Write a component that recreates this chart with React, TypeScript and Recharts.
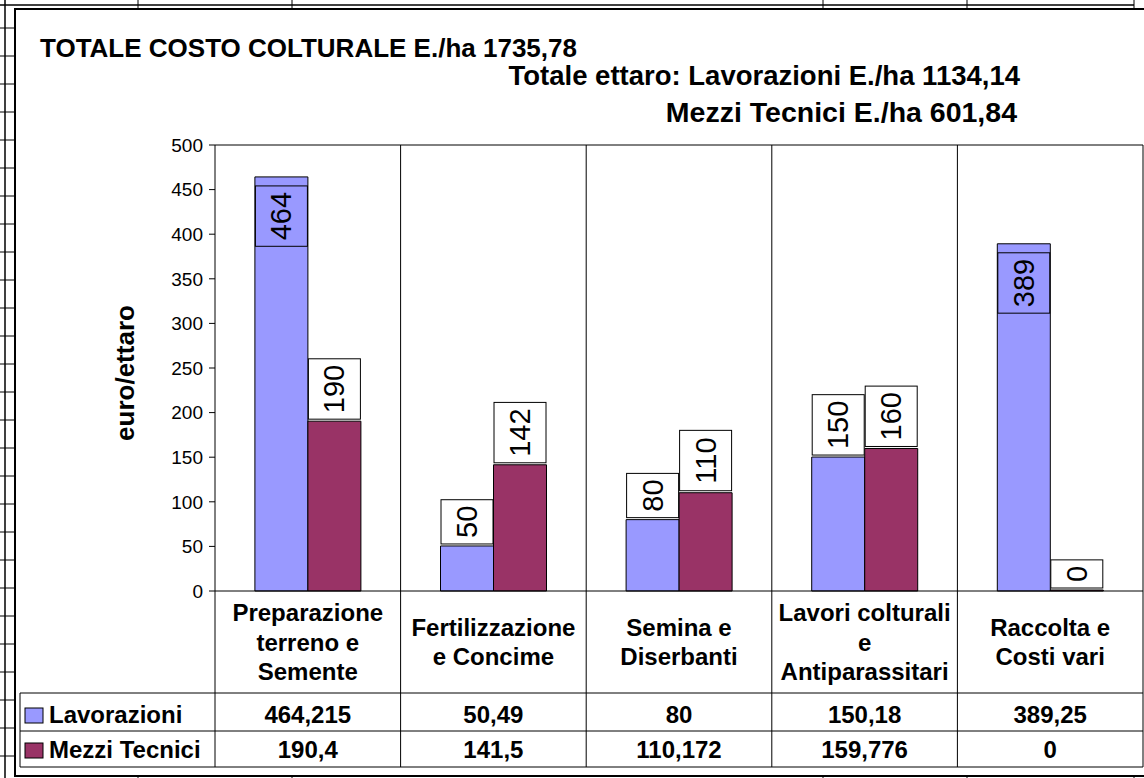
import React from 'react';
import { BarChart, Bar, XAxis, YAxis, LabelList, ReferenceLine } from 'recharts';

const FONT = '"Liberation Sans", Arial, Helvetica, sans-serif';

// ---------- data ----------
const categories = [
  'Preparazione\nterreno e\nSemente',
  'Fertilizzazione\ne Concime',
  'Semina e\nDiserbanti',
  'Lavori colturali\ne\nAntiparassitari',
  'Raccolta e\nCosti vari',
];
const lavorazioni = [464.215, 50.49, 80, 150.18, 389.25];
const mezziTecnici = [190.4, 141.5, 110.172, 159.776, 0];
const seriesNames = ['Lavorazioni', 'Mezzi Tecnici'];
const seriesColors = ['#9999FF', '#993366'];
const yTicks = [0, 50, 100, 150, 200, 250, 300, 350, 400, 450, 500];
const Y_MAX = 500;
const titleText = 'TOTALE COSTO COLTURALE E./ha 1735,78';
const subtitle1 = 'Totale ettaro: Lavorazioni E./ha 1134,14';
const subtitle2 = 'Mezzi Tecnici E./ha 601,84';
const yAxisTitle = 'euro/ettaro';

const data = categories.map((c, i) => ({ category: c, lav: lavorazioni[i], mezzi: mezziTecnici[i] }));
const seriesValues = [lavorazioni, mezziTecnici];

// ---------- layout ----------
const W = 1144;
const H = 778;
const MARGIN = { top: 145, right: 1, bottom: 11, left: 135 };
const YAXIS_W = 80;
const XAXIS_H = 176;
const PLOT_LEFT = MARGIN.left + YAXIS_W;
const PLOT_TOP = MARGIN.top;
const PLOT_RIGHT = W - MARGIN.right;
const PLOT_BOTTOM = H - MARGIN.bottom - XAXIS_H;
const TABLE_LEFT = 20;
const ROW1_TOP = 693;
const ROW2_TOP = 731;
const TABLE_BOTTOM = 767;
const ROW_BASELINES = [723, 758];
const LABEL_FS = 29;
const TABLE_FS = 24;

const fmt = (v: number) => String(v).replace('.', ',');

const CategoryTick = (props: any) => {
  const { x, payload } = props;
  const n = categories.length;
  const i = categories.indexOf(payload.value);
  const band = (PLOT_RIGHT - PLOT_LEFT) / n;
  const lines = String(payload.value).split('\n');
  const catCenter = (PLOT_BOTTOM + ROW1_TOP) / 2;
  const lh = 29.5;
  return (
    <g>
      <line x1={x - band / 2} x2={x - band / 2} y1={i === 0 ? PLOT_BOTTOM : PLOT_TOP} y2={TABLE_BOTTOM} stroke="#000" strokeWidth={1} />
      {i === n - 1 && (
        <line x1={x + band / 2} x2={x + band / 2} y1={PLOT_TOP} y2={TABLE_BOTTOM} stroke="#000" strokeWidth={1} />
      )}
      <text textAnchor="middle" fontWeight="bold" fontSize={24} fill="#000" fontFamily={FONT}>
        {lines.map((l, k) => (
          <tspan key={k} x={x} y={catCenter + 8.6 + (k - (lines.length - 1) / 2) * lh}>
            {l}
          </tspan>
        ))}
      </text>
      {seriesValues.map((arr, s) => (
        <text key={s} x={x} y={ROW_BASELINES[s]} textAnchor="middle" fontWeight="bold" fontSize={TABLE_FS} fill="#000" fontFamily={FONT}>
          {fmt(arr[i])}
        </text>
      ))}
      {i === 0 && (
        <g>
          {[ROW1_TOP, ROW2_TOP, TABLE_BOTTOM].map((yy) => (
            <line key={yy} x1={TABLE_LEFT} x2={PLOT_RIGHT} y1={yy} y2={yy} stroke="#000" strokeWidth={1} />
          ))}
          <line x1={TABLE_LEFT} x2={TABLE_LEFT} y1={ROW1_TOP} y2={TABLE_BOTTOM} stroke="#000" strokeWidth={1} />
          {seriesNames.map((name, s) => (
            <g key={name}>
              <rect x={25} y={ROW_BASELINES[s] - 15} width={18} height={15} fill={seriesColors[s]} stroke="#000" strokeWidth={1} />
              <text x={49} y={ROW_BASELINES[s]} fontWeight="bold" fontSize={TABLE_FS} fill="#000" fontFamily={FONT}>
                {name}
              </text>
            </g>
          ))}
        </g>
      )}
    </g>
  );
};

const renderBarLabel = (props: any) => {
  const vb = props.viewBox || {};
  const x = Number.isFinite(vb.x) ? vb.x : props.x;
  const y = Number.isFinite(vb.y) ? vb.y : props.y;
  const width = Number.isFinite(vb.width) ? vb.width : props.width;
  const height = Number.isFinite(vb.height) ? vb.height : props.height;
  const value = Number(props.value);
  const txt = String(Math.round(value));
  const boxH = txt.length * 0.556 * LABEL_FS + 12;
  const boxW = 52;
  const inside = value / Y_MAX > 0.7;
  const barTop = height < 0 ? y + height : y;
  const top = inside ? barTop + 9 : barTop - 2 - boxH;
  const cx = x + width / 2;
  const cy = top + boxH / 2;
  return (
    <g>
      <rect x={cx - boxW / 2} y={top} width={boxW} height={boxH} fill="#fff" fillOpacity={inside ? 0 : 1} stroke="#000" strokeWidth={1} />
      <text
        x={cx}
        y={cy}
        transform={`rotate(-90 ${cx} ${cy})`}
        textAnchor="middle"
        dominantBaseline="central"
        fontSize={LABEL_FS}
        fontFamily={FONT}
        fill="#000"
      >
        {txt}
      </text>
    </g>
  );
};

const renderYTitle = () => {
  const cx = PLOT_LEFT - 90;
  const cy = (PLOT_TOP + PLOT_BOTTOM) / 2 + 5;
  return (
    <text
      x={cx}
      y={cy}
      transform={`rotate(-90 ${cx} ${cy})`}
      textAnchor="middle"
      dominantBaseline="central"
      fontWeight="bold"
      fontSize={26}
      fontFamily={FONT}
      fill="#000"
    >
      {yAxisTitle}
    </text>
  );
};

const sheetRows = Array.from({ length: 27 }, (_, k) => 28 * (k + 1));
const sheetCols = [138, 292, 823, 967, 1134];

export default function App() {
  return (
    <div style={{ position: 'absolute', left: 0, top: 0, width: W, height: H, background: '#fff', fontFamily: FONT, overflow: 'hidden' }}>
      <svg width={W} height={H} style={{ position: 'absolute', left: 0, top: 0 }}>
        <line x1={0} y1={5} x2={1134} y2={5} stroke="#000" strokeWidth={1.5} />
        <line x1={5} y1={0} x2={5} y2={H} stroke="#000" strokeWidth={1.5} />
        {sheetRows.map((yy) => (
          <line key={yy} x1={0} x2={14} y1={yy} y2={yy} stroke="#000" strokeWidth={1} />
        ))}
        {sheetCols.map((xx) => (
          <g key={xx}>
            <line x1={xx} x2={xx} y1={0} y2={9} stroke="#000" strokeWidth={1} />
            <line x1={xx} x2={xx} y1={776} y2={H} stroke="#000" strokeWidth={1} />
          </g>
        ))}
        <rect x={15} y={9} width={1145} height={767} fill="#fff" stroke="#000" strokeWidth={2} />
      </svg>
      <div style={{ position: 'absolute', left: 0, top: 0 }}>
        <BarChart width={W} height={H} data={data} margin={MARGIN} barCategoryGap="21.5%" barGap={0}>
          <XAxis
            dataKey="category"
            interval={0}
            tickLine={false}
            axisLine={{ stroke: '#000' }}
            height={XAXIS_H}
            tick={CategoryTick}
          />
          <YAxis
            domain={[0, Y_MAX]}
            ticks={yTicks}
            interval={0}
            width={YAXIS_W}
            axisLine={{ stroke: '#000' }}
            tickLine={{ stroke: '#000' }}
            tickSize={6}
            tickMargin={6}
            tick={{ fill: '#000', fontSize: 19, fontFamily: FONT }}
            label={renderYTitle}
          />
          <ReferenceLine y={Y_MAX} stroke="#000" strokeWidth={1} />
          <Bar dataKey="lav" name={seriesNames[0]} fill={seriesColors[0]} stroke="#000" strokeWidth={1} minPointSize={1} isAnimationActive={false}>
            <LabelList dataKey="lav" content={renderBarLabel} />
          </Bar>
          <Bar dataKey="mezzi" name={seriesNames[1]} fill={seriesColors[1]} stroke="#000" strokeWidth={1} minPointSize={1} isAnimationActive={false}>
            <LabelList dataKey="mezzi" content={renderBarLabel} />
          </Bar>
        </BarChart>
      </div>
      <div style={{ position: 'absolute', left: 40, top: 35, fontSize: 26, fontWeight: 'bold', lineHeight: 1, whiteSpace: 'nowrap', color: '#000' }}>
        {titleText}
      </div>
      <div style={{ position: 'absolute', right: 124, top: 62, fontSize: 27.5, fontWeight: 'bold', lineHeight: 1, whiteSpace: 'nowrap', color: '#000' }}>
        {subtitle1}
      </div>
      <div style={{ position: 'absolute', right: 127, top: 98, fontSize: 28.5, fontWeight: 'bold', lineHeight: 1, whiteSpace: 'nowrap', color: '#000' }}>
        {subtitle2}
      </div>
    </div>
  );
}
